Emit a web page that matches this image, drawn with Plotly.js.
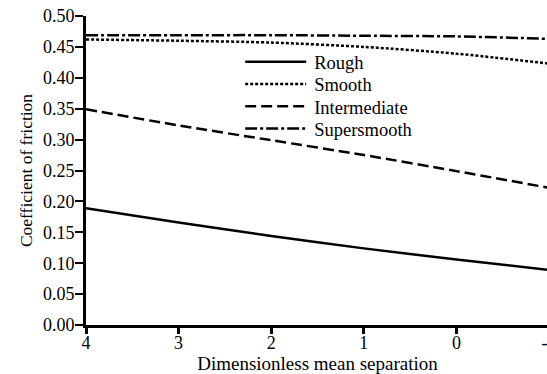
<!DOCTYPE html>
<html>
<head>
<meta charset="utf-8">
<script src="https://cdn.plot.ly/plotly-3.0.1.min.js"></script>
<style>
html, body { margin: 0; padding: 0; overflow: hidden; background: #fff; }
#chart { width: 556px; height: 374px; }
.preload { position: absolute; left: 2px; top: 352px; font-family: 'Liberation Serif'; font-size: 16px; color: #fff; }
#note { position: absolute; left: 2px; top: 0px; font-family: monospace; font-size: 1px; color: #fff; }
</style>
</head>
<body>
<div class="preload">Rough 0.50</div>
<div id="chart"></div>
<div id="note"></div>
<script>
const separation = [4, 3, 2, 1, 0, -1];
const rough = [0.189, 0.166, 0.144, 0.124, 0.106, 0.089];
const smooth = [0.462, 0.460, 0.457, 0.450, 0.439, 0.423];
const intermediate = [0.349, 0.323, 0.299, 0.275, 0.249, 0.222];
const supersmooth = [0.469, 0.469, 0.469, 0.468, 0.467, 0.463];
const seriesNames = ['Rough', 'Smooth', 'Intermediate', 'Supersmooth'];
const xTickVals = [4, 3, 2, 1, 0, -1];
const xTickText = ['4', '3', '2', '1', '0', '-1'];
const yTickVals = [0, 0.05, 0.1, 0.15, 0.2, 0.25, 0.3, 0.35, 0.4, 0.45, 0.5];
const yTickText = ['0.00', '0.05', '0.10', '0.15', '0.20', '0.25', '0.30', '0.35', '0.40', '0.45', '0.50'];

const FONT = "'Liberation Serif', 'Times New Roman', Times, serif";
const mk = (y, name, dash) => ({
  x: separation, y: y, name: name, type: 'scatter', mode: 'lines',
  line: { color: '#000', width: 2.5, dash: dash, shape: 'spline', smoothing: 0.8 },
  cliponaxis: true
});

function buildData() {
  return [
    mk(rough, seriesNames[0], 'solid'),
    mk(smooth, seriesNames[1], '3px,2px'),
    mk(intermediate, seriesNames[2], '11px,5px'),
    mk(supersmooth, seriesNames[3], '12px,3px,3px,3px')
  ];
}

function buildLayout() {
  return {
    width: 556, height: 374,
    margin: { l: 86, r: 7, t: 16, b: 49, pad: 0 },
    paper_bgcolor: '#fff', plot_bgcolor: '#fff',
    font: { family: FONT, size: 18, color: '#000' },
    showlegend: true,
    legend: {
      x: 0.333, y: 0.912, xanchor: 'left', yanchor: 'top',
      bgcolor: 'rgba(0,0,0,0)', borderwidth: 0,
      font: { family: FONT, size: 18.5, color: '#000' },
      itemwidth: 64, tracegroupgap: 0
    },
    xaxis: {
      range: [4, -1], autorange: false, automargin: false,
      tickmode: 'array', tickvals: xTickVals, ticktext: xTickText,
      showline: true, linecolor: '#000', linewidth: 3,
      ticks: 'outside', ticklen: 6, tickwidth: 3, tickcolor: '#000',
      ticklabelstandoff: -7, ticklabeloverflow: 'allow',
      showgrid: false, zeroline: false,
      title: { text: 'Dimensionless mean separation', font: { family: FONT, size: 19, color: '#000' }, standoff: 0 },
      tickfont: { family: FONT, size: 18, color: '#000' }
    },
    yaxis: {
      range: [0, 0.5], autorange: false, automargin: false,
      tickmode: 'array', tickvals: yTickVals, ticktext: yTickText,
      showline: true, linecolor: '#000', linewidth: 3,
      ticks: 'outside', ticklen: 8, tickwidth: 2, tickcolor: '#000',
      ticklabelstandoff: -3,
      showgrid: false, zeroline: false,
      title: { text: 'Coefficient of friction', font: { family: FONT, size: 17.5, color: '#000' }, standoff: 6 },
      tickfont: { family: FONT, size: 18, color: '#000' }
    }
  };
}

function styleLegend(gd) {
  gd.querySelectorAll('.legend .legendlines path').forEach(function (p) {
    p.setAttribute('d', 'M5,0h61');
  });
  const items = gd.querySelectorAll('.legend .traces');
  let y0 = null;
  items.forEach(function (g, i) {
    const m = /translate\(\s*([-\d.]+)[ ,]+([-\d.]+)\s*\)/.exec(g.getAttribute('transform') || '');
    if (!m) return;
    if (y0 === null) y0 = parseFloat(m[2]);
    g.setAttribute('transform', 'translate(' + m[1] + ',' + (y0 + 22.3 * i) + ')');
  });
}

const gdiv = document.getElementById('chart');
const note = document.getElementById('note');
const config = { displayModeBar: false, staticPlot: true };

function draw() {
  const pr = Plotly.newPlot(gdiv, buildData(), buildLayout(), config);
  styleLegend(gdiv);
  note.textContent = 'fonts ' + document.fonts.status;
  return pr.then(function (gd) { styleLegend(gd); note.textContent += '.'; return gd; });
}

draw();
if (document.fonts && document.fonts.load) {
  document.fonts.load("18px 'Liberation Serif'").then(function () {
    Plotly.purge(gdiv);
    draw();
  });
}
</script>
</body>
</html>
